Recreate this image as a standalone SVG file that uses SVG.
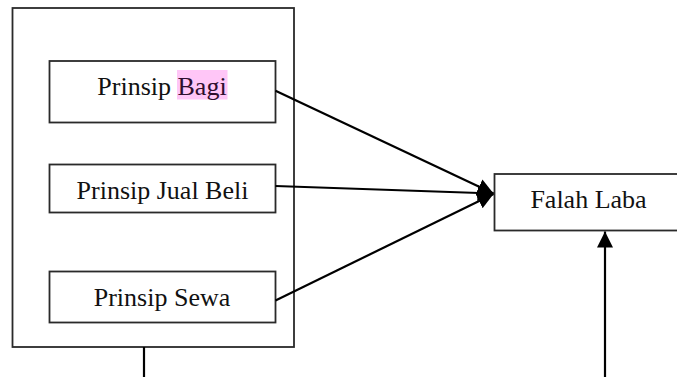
<svg xmlns="http://www.w3.org/2000/svg" width="677" height="377" viewBox="0 0 677 377">
  <style>
    .box { fill: #ffffff; stroke: #2a2a2a; stroke-width: 1.8; }
    .label { font-family: "Liberation Serif", "Times New Roman", serif; font-size: 26px; fill: #111111; text-anchor: middle; }
    .edge { fill: none; stroke: #000000; stroke-width: 2.2; }
    .mark { fill: #ffc6f7; }
  </style>
  <defs>
    <marker id="arrow" markerUnits="userSpaceOnUse" markerWidth="18" markerHeight="18" refX="16" refY="8" orient="auto">
      <path d="M0,0 L16,8 L0,16 z" fill="#000000"/>
    </marker>
  </defs>
  <rect width="677" height="377" fill="#ffffff"/>

  <!-- outer grouping frame -->
  <g id="frame">
    <rect class="box" x="12.5" y="8" width="281.5" height="339"/>
  </g>

  <g id="prinsip-bagi">
    <rect class="box" x="49.5" y="61" width="226" height="61.5"/>
    <rect class="mark" x="177" y="70" width="50.5" height="29.5"/>
    <text class="label" x="162" y="94.5">Prinsip <tspan fill="#2e0f2e">Bagi</tspan></text>
  </g>

  <g id="prinsip-jual-beli">
    <rect class="box" x="49.5" y="164.5" width="226" height="48"/>
    <text class="label" x="162.5" y="199">Prinsip Jual Beli</text>
  </g>

  <g id="prinsip-sewa">
    <rect class="box" x="49.5" y="271.5" width="226" height="51"/>
    <text class="label" x="162" y="305.5">Prinsip Sewa</text>
  </g>

  <g id="falah-laba">
    <rect class="box" x="494.5" y="174" width="188" height="56.5"/>
    <text class="label" x="588.5" y="207.5">Falah Laba</text>
  </g>

  <g id="connectors">
    <line class="edge" x1="275.5" y1="90.7" x2="493.5" y2="193.5" marker-end="url(#arrow)"/>
    <line class="edge" x1="275.5" y1="186" x2="493.5" y2="193.5" marker-end="url(#arrow)"/>
    <line class="edge" x1="275.5" y1="300.5" x2="493.5" y2="194" marker-end="url(#arrow)"/>
    <line class="edge" x1="144" y1="347" x2="144" y2="377"/>
    <line class="edge" x1="605" y1="377" x2="605" y2="231.5" marker-end="url(#arrow)"/>
  </g>
</svg>
